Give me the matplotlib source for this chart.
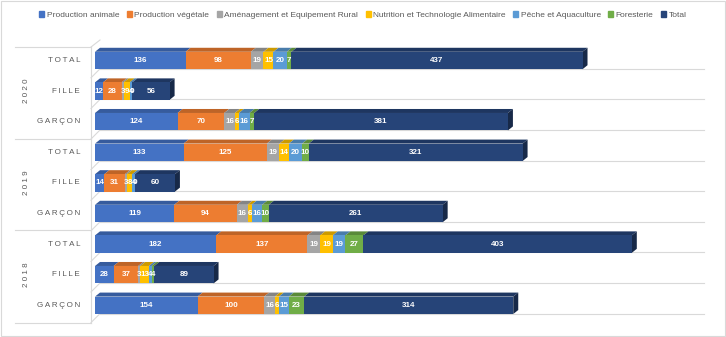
import numpy as np
import matplotlib
matplotlib.use('Agg')
import matplotlib.pyplot as plt
from matplotlib.patches import Patch, Polygon
from matplotlib.lines import Line2D
from matplotlib.colors import to_rgb

plt.rcParams['font.family'] = ['Liberation Sans', 'DejaVu Sans']

# rows from top to bottom
years = ['2020', '2019', '2018']
groups = ['TOTAL', 'FILLE', 'GARÇON']
series = ['Production animale', 'Production végétale', 'Aménagement et Equipement Rural',
          'Nutrition et Technologie Alimentaire', 'Pêche et Aquaculture', 'Foresterie', 'Total']
colors = ['#4472C4', '#ED7D31', '#A5A5A5', '#FFC000', '#5B9BD5', '#70AD47', '#264478']

prod_animale = [136, 12, 124, 133, 14, 119, 182, 28, 154]
prod_vegetale = [98, 28, 70, 125, 31, 94, 137, 37, 100]
amenagement = [19, 3, 16, 19, 3, 16, 19, 3, 16]
nutrition = [15, 9, 6, 14, 8, 6, 19, 13, 6]
peche = [20, 4, 16, 20, 4, 16, 19, 4, 15]
foresterie = [7, 0, 7, 10, 0, 10, 27, 4, 23]
total = [437, 56, 381, 321, 60, 261, 403, 89, 314]

values = np.array([prod_animale, prod_vegetale, amenagement, nutrition, peche, foresterie, total])

W, H = 726, 337
fig = plt.figure(figsize=(W / 100, H / 100), dpi=100)

def fx(x):
    return x / W

def fy(y):
    return 1 - y / H

def pxline(xs, ys, color='#D9D9D9', lw=0.8, z=0):
    fig.add_artist(Line2D([fx(x) for x in xs], [fy(y) for y in ys], color=color, lw=lw, zorder=z))

# plot area geometry (pixels)
row0, step = 60.5, 30.6
x0, x1 = 95, 720
ylo, yhi = -0.6, 8.7
ax = fig.add_axes([fx(x0), fy(row0 + step * yhi), (x1 - x0) / W, (step * (yhi - ylo)) / H])
ax.set_xlim(0, (x1 - x0) / 0.666)
ax.set_ylim(yhi, ylo)
ax.axis('off')
ax.patch.set_alpha(0)

# floor gridlines and category box
n = values.shape[1]
for i in range(n):
    yg = row0 + step * i + 8.3
    pxline([100, 704], [yg, yg], z=0)
    pxline([91, 100], [yg + 9, yg], z=0)
pxline([91, 100], [47, 40], z=0)
pxline([91, 91], [47, 323])
for yb in [47, 139, 230, 323]:
    pxline([15, 91], [yb, yb])
fig.add_artist(plt.Rectangle((0.002, 0.003), 0.996, 0.994, fill=False,
                             ec='#D9D9D9', lw=0.8, transform=fig.transFigure))

# 3d bars
h = 0.57
dx = 5 / 0.666
dy = 4 / step
ypos = np.arange(n)
left = np.zeros(n)
for k, (name, col) in enumerate(zip(series, colors)):
    vals = values[k]
    ax.barh(ypos, vals, left=left, height=h, color=col, zorder=3)
    top_col = tuple(c * 0.8 for c in to_rgb(col))
    side_col = tuple(c * 0.6 for c in to_rgb(col))
    for i in range(n):
        a, b = left[i], left[i] + vals[i]
        yt = ypos[i] - h / 2
        if vals[i] > 0:
            ax.add_patch(Polygon([(a, yt), (b, yt), (b + dx, yt - dy), (a + dx, yt - dy)],
                                 closed=True, fc=top_col, ec='none', zorder=2))
        if k == len(series) - 1:
            ax.add_patch(Polygon([(b, yt), (b + dx, yt - dy), (b + dx, yt + h - dy), (b, yt + h)],
                                 closed=True, fc=side_col, ec='none', zorder=2))
        ax.text(a + vals[i] / 2, ypos[i], str(vals[i]), ha='center', va='center',
                color='white', fontsize=5.8, fontweight='bold', zorder=5)
    left = left + vals

# category labels, letter-spaced with thin spaces
for i in range(n):
    lab = '\u2009'.join(groups[i % 3])
    fig.text(fx(80), fy(row0 + step * i), lab, ha='right', va='center',
             fontsize=5.8, color='#595959')
for j, yr in enumerate(years):
    fig.text(fx(27), fy(row0 + step * (3 * j + 1)), ' '.join(yr), ha='center', va='center',
             rotation=90, fontsize=5.8, color='#595959')

handles = [Patch(color=c, label=s) for s, c in zip(series, colors)]
fig.legend(handles=handles, loc='center', bbox_to_anchor=(0.5, fy(15)), ncol=7,
           frameon=False, fontsize=6, handlelength=0.6, handleheight=0.6,
           handletextpad=0.3, columnspacing=0.9, labelcolor='#595959')

fig.savefig('out.png', dpi=100)
